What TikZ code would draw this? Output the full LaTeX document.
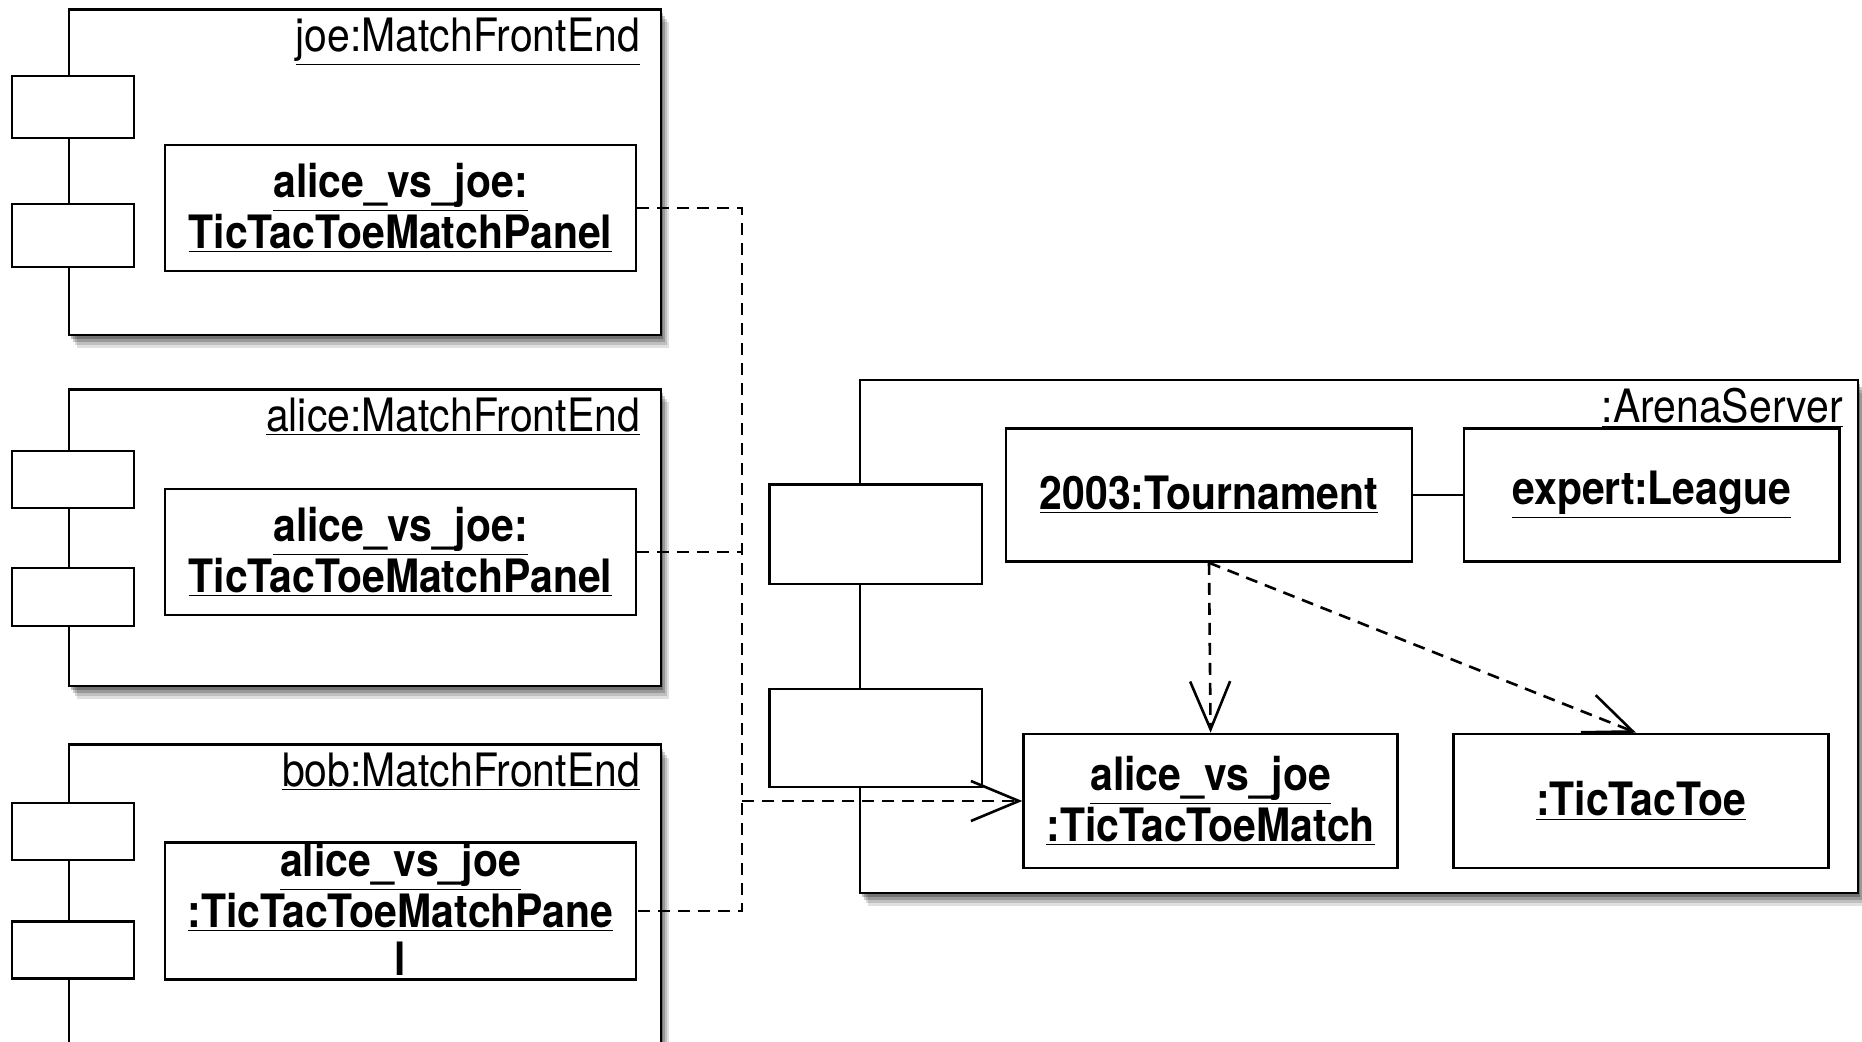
\documentclass[tikz,border=0pt]{standalone}
\usepackage{fontspec}
\setmainfont{TeX Gyre Heros}[FakeStretch=0.89]
\usetikzlibrary{arrows.meta, shadows}
\newcommand{\ulbox}[1]{\underline{#1}}

\begin{document}
\begin{tikzpicture}[x=0.5pt, y=-0.5pt,
    every node/.style={font=\fontsize{23}{24}\selectfont},
    node box/.style={draw, line width=1.3pt, fill=white, inner sep=0pt},
    frontend/.style={node box,
        drop shadow={shadow xshift=4pt, shadow yshift=-6.5pt, opacity=.12, fill=black},
        drop shadow={shadow xshift=3pt, shadow yshift=-5pt, opacity=.15, fill=black},
        drop shadow={shadow xshift=2pt, shadow yshift=-3.5pt, opacity=.2, fill=black},
        drop shadow={shadow xshift=1pt, shadow yshift=-2pt, opacity=.25, fill=black}},
    port/.style={node box, minimum width=61pt},
    part/.style={node box, align=center, font=\fontsize{23}{24}\selectfont\bfseries},
    tag/.style={anchor=north east, inner sep=1pt},
    dep/.style={line width=1.3pt, dash pattern=on 6pt off 4pt},
    open tip/.style={-{Straight Barb[length=24pt, width=20pt]}}]
    \path[use as bounding box, clip] (0,0) rectangle (1862,1042);

    \node[frontend, minimum width=296pt, minimum height=162.75pt] (joefe) at (365,172.25) {};
    \node[tag] (joetag) at ([xshift=-10pt, yshift=-3.5pt]joefe.north east) {\ulbox{joe:MatchFrontEnd}};
    \node[port, minimum height=31pt] (joeportA) at (73,107) {};
    \node[port, minimum height=31.5pt] (joeportB) at (73,235.5) {};
    \node[part, minimum width=235.5pt, minimum height=63pt] (joepanel) at (400.5,208) {\ulbox{alice\_vs\_joe:}\\\ulbox{TicTacToeMatchPanel}};

    \node[frontend, minimum width=296pt, minimum height=148.25pt] (alicefe) at (365,537.75) {};
    \node[tag] (alicetag) at ([xshift=-10pt, yshift=-3.5pt]alicefe.north east) {\ulbox{alice:MatchFrontEnd}};
    \node[port, minimum height=28.5pt] (aliceportA) at (73,479.5) {};
    \node[port, minimum height=29pt] (aliceportB) at (73,597) {};
    \node[part, minimum width=235.5pt, minimum height=63pt] (alicepanel) at (400.5,552) {\ulbox{alice\_vs\_joe:}\\\ulbox{TicTacToeMatchPanel}};

    \node[frontend, minimum width=296pt, minimum height=162.5pt] (bobfe) at (365,907) {};
    \node[tag] (bobtag) at ([xshift=-10pt, yshift=-3.5pt]bobfe.north east) {\ulbox{bob:MatchFrontEnd}};
    \node[port, minimum height=28.5pt] (bobportA) at (73,831.5) {};
    \node[port, minimum height=28.5pt] (bobportB) at (73,950) {};
    \node[part, minimum width=235.5pt, minimum height=63pt] (bobpanel) at (400.5,911) {\ulbox{alice\_vs\_joe}\\\ulbox{:TicTacToeMatchPane}\\\ulbox{l}};

    \node[frontend, minimum width=499pt, minimum height=256.5pt] (arena) at (1359,636.5) {};
    \node[tag] (arenatag) at ([xshift=-7pt, yshift=-3.5pt]arena.north east) {\ulbox{:ArenaServer}};
    \node[port, minimum width=106.25pt, minimum height=49.75pt] (arenaportA) at (875.75,534.25) {};
    \node[port, minimum width=106.25pt, minimum height=49pt] (arenaportB) at (875.75,738) {};
    \node[part, minimum width=203pt, minimum height=66.5pt] (tournament) at (1209,495) {\ulbox{2003:Tournament}};
    \node[part, minimum width=187.75pt, minimum height=66.5pt] (league) at (1651.75,495) {\ulbox{expert:League}};
    \node[part, minimum width=187pt, minimum height=67pt] (match) at (1210.6,801) {\ulbox{alice\_vs\_joe}\\\ulbox{:TicTacToeMatch}};
    \node[part, minimum width=187.75pt, minimum height=67pt] (tictactoe) at (1641,801) {\ulbox{:TicTacToe}};

    \coordinate (bus) at (742,0);
    \draw[dep] (joepanel.east) -- (joepanel.east -| bus) -- (bobpanel.east -| bus) -- (bobpanel.east);
    \draw[dep] (alicepanel.east) -- (alicepanel.east -| bus);
    \draw[dep, open tip] (match.west -| bus) -- (match.west);
    \draw[line width=1.3pt] (tournament) -- (league);
    \draw[dep, open tip] (tournament.south) -- (match.north);
    \draw[dep, open tip] (tournament.south) -- ([xshift=-2.5pt]tictactoe.north);
\end{tikzpicture}
\end{document}
